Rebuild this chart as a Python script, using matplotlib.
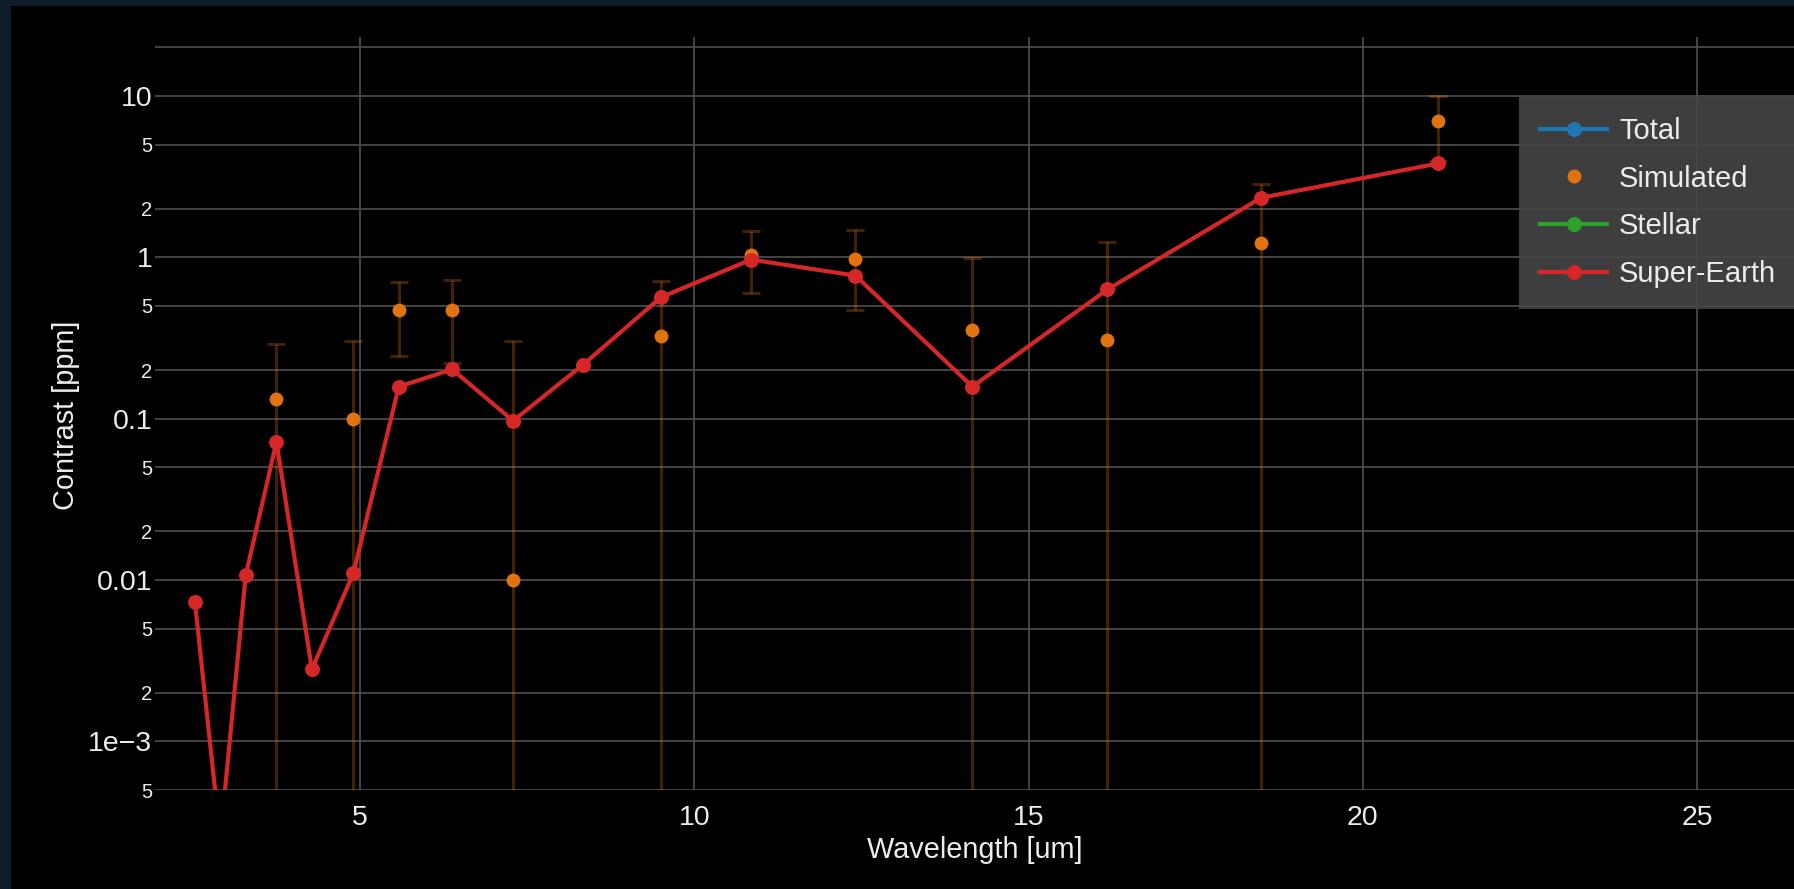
import numpy as np
import matplotlib.pyplot as plt
from matplotlib.lines import Line2D
from matplotlib.patches import Rectangle

plt.rcParams['font.family'] = ['Liberation Sans', 'DejaVu Sans']

# Spectral bins [um]
wavelength = [2.53, 2.91, 3.29, 3.75, 4.28, 4.90, 5.58, 6.38, 7.29, 8.33,
              9.50, 10.85, 12.41, 14.16, 16.18, 18.48, 21.13]
# Planet contrast model [ppm]
super_earth = [0.0073, 0.00025, 0.0107, 0.072, 0.0028, 0.0110, 0.158, 0.202, 0.097, 0.215,
               0.565, 0.968, 0.771, 0.158, 0.632, 2.34, 3.82]

# Simulated observation with 1-sigma noise [ppm]
sim_wl = [3.75, 4.90, 5.58, 6.38, 7.29, 9.50, 10.85, 12.41, 14.16, 16.18, 18.48, 21.13]
sim_val = [0.132, 0.100, 0.472, 0.472, 0.010, 0.324, 1.03, 0.97, 0.357, 0.308, 1.22, 6.98]
sim_err = [0.157, 0.203, 0.227, 0.250, 0.293, 0.386, 0.43, 0.50, 0.627, 0.93, 1.63, 3.0]

y_ticks = [5e-4, 1e-3, 2e-3, 5e-3, 0.01, 0.02, 0.05, 0.1, 0.2, 0.5, 1, 2, 5, 10, 20]
y_labels = ['5', '1e\u22123', '2', '5', '0.01', '2', '5', '0.1', '2', '5', '1', '2', '5', '10', '']
x_ticks = [5, 10, 15, 20, 25]

c_total = '#1f77b4'
c_sim = '#e07310'
c_stellar = '#2ca02c'
c_planet = '#d62728'
txt = '#ececec'

W, H = 1794, 889
fig = plt.figure(figsize=(W / 100, H / 100), dpi=100, facecolor='#0e1b2a')
fig.patches.append(Rectangle((11 / W, 0), 1 - 11 / W, 1 - 6 / H, transform=fig.transFigure,
                             facecolor='black', edgecolor='none', zorder=-1))

ax = fig.add_axes([155 / W, 1 - 790 / H, 1 - 155 / W, (790 - 37) / H])
ax.set_facecolor('black')
ax.set_yscale('log')
ax.set_xlim(1.933, 26.45)
ax.set_ylim(5e-4, 23.2)

# simulated points with error bars (lower end clipped for the log axis)
sim_val = np.array(sim_val)
sim_err = np.array(sim_err)
lower = sim_val - np.maximum(sim_val - sim_err, 1e-7)
ax.errorbar(sim_wl, sim_val, yerr=[lower, sim_err], fmt='none', ecolor=c_sim, alpha=0.3,
            elinewidth=2.2, capsize=6.8, capthick=2.2, zorder=2)
ax.plot(sim_wl, sim_val, 'o', color=c_sim, markersize=10, markeredgewidth=0, zorder=3)

ax.plot(wavelength, super_earth, '-o', color=c_planet, lw=3, markersize=10.8,
        markeredgewidth=0, zorder=4)

ax.set_xticks(x_ticks)
ax.set_xticklabels([str(t) for t in x_ticks])
ax.set_yticks(y_ticks)
ax.set_yticklabels(y_labels)
ax.yaxis.set_minor_locator(plt.NullLocator())
for lab, text in zip(ax.get_yticklabels(), y_labels):
    lab.set_fontsize(20.5 if text not in ('2', '5') else 14.5)
    lab.set_color(txt)
for lab in ax.get_xticklabels():
    lab.set_fontsize(20.5)
    lab.set_color(txt)
ax.tick_params(axis='x', length=0, pad=10.5)
ax.tick_params(axis='y', length=0, pad=2)
ax.grid(True, color='#4a4a4a', lw=1.3)
ax.set_axisbelow(True)
for s in ax.spines.values():
    s.set_visible(False)

ax.set_xlabel('Wavelength [um]', fontsize=20.8, color=txt)
ax.xaxis.set_label_coords(0.5, -0.061)
ax.set_ylabel('Contrast [ppm]', fontsize=20.8, color=txt)
ax.yaxis.set_label_coords(-0.046, 0.497)

handles = [
    Line2D([], [], color=c_total, lw=3, marker='o', markersize=10.8, markeredgewidth=0),
    Line2D([], [], color=c_sim, lw=0, marker='o', markersize=10, markeredgewidth=0),
    Line2D([], [], color=c_stellar, lw=3, marker='o', markersize=10.8, markeredgewidth=0),
    Line2D([], [], color=c_planet, lw=3, marker='o', markersize=10.8, markeredgewidth=0),
]
leg = ax.legend(handles, ['Total', 'Simulated', 'Stellar', 'Super-Earth'],
                loc='upper left', bbox_to_anchor=(1519 / W, 1 - 96 / H),
                bbox_transform=fig.transFigure, borderaxespad=0, fontsize=21,
                handlelength=2.3, handletextpad=0.41, labelspacing=0.675,
                borderpad=0.72, fancybox=False, framealpha=0.9)
leg.get_frame().set_facecolor('#464646')
leg.get_frame().set_edgecolor('none')
for t in leg.get_texts():
    t.set_color(txt)

fig.savefig('out.png', dpi=100, facecolor=fig.get_facecolor())
